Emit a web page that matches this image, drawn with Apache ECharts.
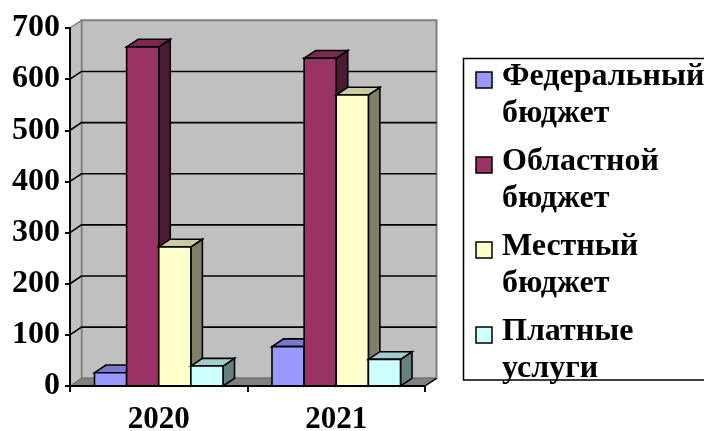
<!DOCTYPE html>
<html>
<head>
<meta charset="utf-8">
<script src="https://cdn.jsdelivr.net/npm/echarts@6/dist/echarts.min.js"></script>
<style>
  html, body { margin: 0; padding: 0; background: #fff; }
  #chart { width: 704px; height: 431px; }
</style>
</head>
<body>
<div id="chart"></div>
<script>
// ---- data ----
var categories = ['2020', '2021'];
var seriesNames = ['Федеральный бюджет', 'Областной бюджет', 'Местный бюджет', 'Платные услуги'];
var federal = [26, 77];
var regional = [663, 641];
var local = [272, 569];
var paid = [39, 52];
var yTicks = [0, 100, 200, 300, 400, 500, 600, 700];

var seriesValues = [federal, regional, local, paid];

// ---- style ----
var FONT = '"Liberation Serif", "Times New Roman", serif';
var DX = 11.5, DY = -7.7;
var BAR_RATIO = 0.181;
var faceColors = [
  { front: '#9999FF', top: '#7A7ACC', side: '#4D4D80' },
  { front: '#993366', top: '#7A2952', side: '#4D1A33' },
  { front: '#FFFFCC', top: '#CCCCA3', side: '#808066' },
  { front: '#CCFFFF', top: '#A3CCCC', side: '#668080' }
];

var chart = echarts.init(document.getElementById('chart'), null, { renderer: 'canvas' });

function wallsRender(params, api) {
  var cs = params.coordSys;
  var x0 = cs.x, x1 = cs.x + cs.width;
  var yMin = api.coord([0, yTicks[0]])[1];
  var yMax = api.coord([0, yTicks[yTicks.length - 1]])[1];
  var children = [];
  // back wall
  children.push({ type: 'polygon', z2: 1, shape: { points: [
      [x0 + DX, yMax + DY], [x1 + DX, yMax + DY], [x1 + DX, yMin + DY], [x0 + DX, yMin + DY]] },
    style: { fill: '#C0C0C0', stroke: '#808080', lineWidth: 2 } });
  // left wall
  children.push({ type: 'polygon', z2: 2, shape: { points: [
      [x0, yMax], [x0 + DX, yMax + DY], [x0 + DX, yMin + DY], [x0, yMin]] },
    style: { fill: '#C0C0C0', stroke: '#808080', lineWidth: 1.5 } });
  // floor
  children.push({ type: 'polygon', z2: 3, shape: { points: [
      [x0, yMin], [x0 + DX, yMin + DY], [x1 + DX, yMin + DY], [x1, yMin]] },
    style: { fill: '#808080', stroke: '#707070', lineWidth: 1 } });
  children.push({ type: 'line', z2: 4, shape: { x1: x1, y1: yMin, x2: x1 + DX, y2: yMin + DY },
    style: { stroke: '#000', lineWidth: 1.5 } });
  // gridlines
  for (var i = 1; i < yTicks.length - 1; i++) {
    var y = api.coord([0, yTicks[i]])[1];
    children.push({ type: 'polyline', z2: 5, shape: { points: [[x0, y], [x0 + DX, y + DY], [x1 + DX, y + DY]] },
      style: { stroke: '#000', lineWidth: 1.6, fill: null } });
  }
  return { type: 'group', children: children };
}

function makeBarRender(sIdx) {
  return function (params, api) {
    var cat = api.value(0), v = api.value(1);
    var base = api.coord([cat, 0]);
    var top = api.coord([cat, v]);
    var band = api.size([1, 0])[0];
    var w = band * BAR_RATIO;
    var n = seriesValues.length;
    var x0 = base[0] - (n / 2) * w + sIdx * w;
    var x1 = x0 + w;
    var y0 = base[1], y1 = top[1];
    var c = faceColors[sIdx];
    var st = { stroke: '#000', lineWidth: 1.6, lineJoin: 'miter' };
    var z2 = 10 + sIdx * 10 + cat;
    return { type: 'group', children: [
      { type: 'polygon', z2: z2, shape: { points: [[x1, y1], [x1 + DX, y1 + DY], [x1 + DX, y0 + DY], [x1, y0]] },
        style: Object.assign({ fill: c.side }, st) },
      { type: 'polygon', z2: z2 + 1, shape: { points: [[x0, y1], [x0 + DX, y1 + DY], [x1 + DX, y1 + DY], [x1, y1]] },
        style: Object.assign({ fill: c.top }, st) },
      { type: 'polygon', z2: z2 + 2, shape: { points: [[x0, y1], [x1, y1], [x1, y0], [x0, y0]] },
        style: Object.assign({ fill: c.front }, st) }
    ] };
  };
}

var series = [{
  type: 'custom', name: 'walls', silent: true, z: 1,
  renderItem: wallsRender, data: [[0, 0]]
}];
seriesValues.forEach(function (vals, sIdx) {
  series.push({
    type: 'custom', name: seriesNames[sIdx], silent: true, z: 2,
    itemStyle: { color: faceColors[sIdx].front },
    renderItem: makeBarRender(sIdx),
    data: vals.map(function (v, i) { return [i, v]; })
  });
});

// legend drawn as graphic (markers aligned with first line of each name)
var legendChildren = [{
  type: 'rect', shape: { x: 463.5, y: 58.5, width: 400, height: 321.5 },
  style: { fill: '#fff', stroke: '#000', lineWidth: 1.5 }
}];
seriesNames.forEach(function (name, i) {
  var cy = 80 + i * 85;
  legendChildren.push({
    type: 'rect', shape: { x: 476, y: cy - 8, width: 16, height: 16 },
    style: { fill: faceColors[i].front, stroke: '#000', lineWidth: 1.5 }
  });
  legendChildren.push({
    type: 'text', x: 502, y: cy - 22,
    style: { text: name.replace(' ', '\n'), font: 'bold 32px ' + FONT, fill: '#000',
      lineHeight: 37, verticalAlign: 'top', align: 'left' }
  });
});

chart.setOption({
  animation: false,
  backgroundColor: '#fff',
  grid: { left: 70, top: 28, width: 355, height: 358, containLabel: false, outerBoundsMode: 'none' },
  xAxis: {
    type: 'category', data: categories, z: 10,
    axisLine: { lineStyle: { color: '#000', width: 2 } },
    axisTick: { show: true, length: 6, lineStyle: { color: '#000', width: 2 } },
    axisLabel: { color: '#000', fontFamily: FONT, fontWeight: 'bold', fontSize: 31, margin: 18 },
    splitLine: { show: false }
  },
  yAxis: {
    type: 'value', min: 0, max: 700, interval: 100, z: 10,
    axisLine: { show: true, lineStyle: { color: '#000', width: 2 } },
    axisTick: { show: true, length: 5, lineStyle: { color: '#000', width: 2 } },
    axisLabel: { color: '#000', fontFamily: FONT, fontWeight: 'bold', fontSize: 32, margin: 10 },
    splitLine: { show: false }
  },
  graphic: [{ type: 'group', children: legendChildren }],
  series: series
});
</script>
</body>
</html>
